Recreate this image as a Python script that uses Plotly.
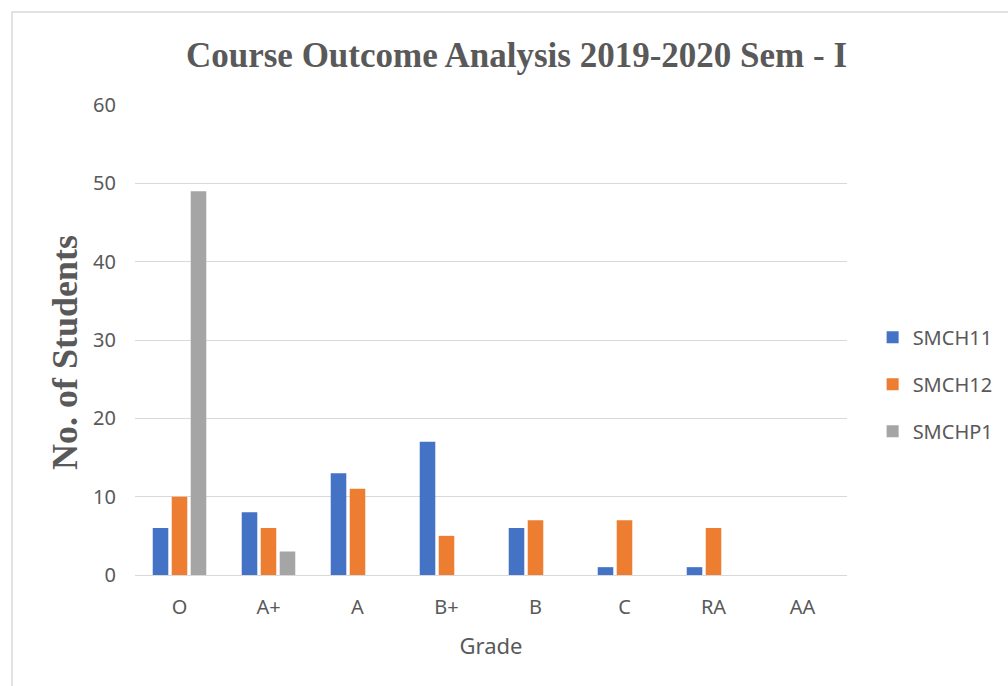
import plotly.graph_objects as go

grades = ["O", "A+", "A", "B+", "B", "C", "RA", "AA"]
smch11 = [6, 8, 13, 17, 6, 1, 1, 0]
smch12 = [10, 6, 11, 5, 7, 7, 6, 0]
smchp1 = [49, 3, 0, 0, 0, 0, 0, 0]

series = [
    ("SMCH11", smch11, "#4472C4"),
    ("SMCH12", smch12, "#ED7D31"),
    ("SMCHP1", smchp1, "#A5A5A5"),
]

fig = go.Figure()
for name, vals, color in series:
    fig.add_trace(go.Bar(
        x=grades, y=vals, name=name, legendgroup=name,
        marker=dict(color=color, line=dict(width=0)),
    ))

sans = "Noto Sans, Open Sans, sans-serif"
serif = "Liberation Serif, Times New Roman, serif"
label_font = dict(family=sans, size=20, color="#595959")

fig.update_layout(
    width=1008, height=686,
    margin=dict(l=135, r=161, t=105, b=111, autoexpand=False),
    paper_bgcolor="white", plot_bgcolor="white",
    barmode="group", bargap=0.36, bargroupgap=0.18,
    title=dict(
        text="<b>Course Outcome Analysis 2019-2020 Sem - I</b>",
        font=dict(family=serif, size=35, color="#595959"),
        x=(190 + 843) / 2 / 1008, xanchor="center", y=1 - 55 / 686, yanchor="middle",
    ),
    xaxis=dict(
        title=dict(text="Grade", font=dict(family=sans, size=22, color="#595959"), standoff=19),
        tickfont=label_font, showgrid=False, ticks="", showline=False,
        ticklabelstandoff=18,
    ),
    yaxis=dict(
        range=[0, 60], dtick=10, tickfont=label_font,
        showgrid=True, gridcolor="#D9D9D9", gridwidth=1.3,
        zeroline=True, zerolinecolor="#D9D9D9", zerolinewidth=1.3,
        ticks="", ticklabelstandoff=18, showline=False,
    ),
    annotations=[dict(
        text="<b>No. of Students</b>", textangle=-90, showarrow=False,
        xref="paper", yref="paper",
        x=(65 - 135) / 712, y=(575 - 353) / 470, xanchor="center", yanchor="middle",
        font=dict(family=serif, size=36, color="#595959"),
    )],
    legend=dict(
        x=1.036, xanchor="left", y=0.406, yanchor="middle",
        font=label_font, tracegroupgap=18, bgcolor="rgba(0,0,0,0)",
    ),
    showlegend=True,
    shapes=[dict(
        type="rect", xref="paper", yref="paper",
        x0=(12 - 135) / 712, x1=1.3, y0=-0.4, y1=(575 - 12) / 470,
        line=dict(color="#D9D9D9", width=1.5), fillcolor="rgba(0,0,0,0)", layer="below",
    )],
)

fig.write_html("out.html")
